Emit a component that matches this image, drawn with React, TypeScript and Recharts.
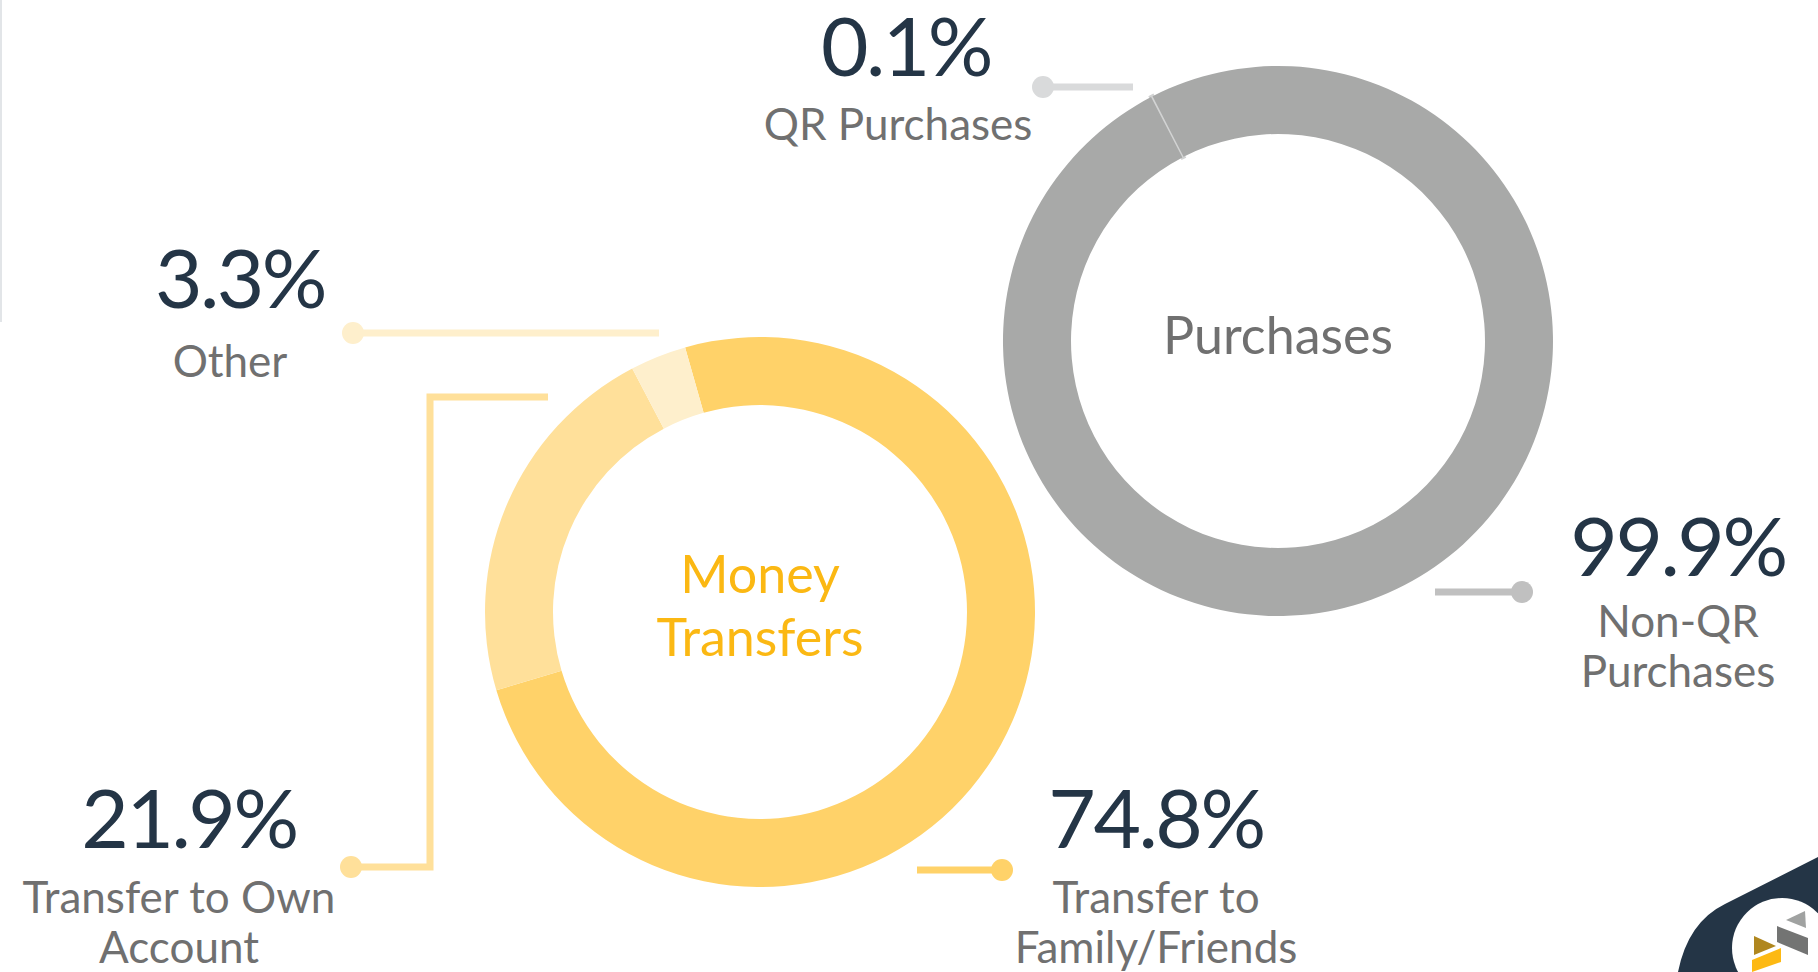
import React from "react"
import { PieChart, Pie, Cell, Customized } from "recharts"

// money transfers, clockwise from the top
const transferNames = ["Transfer to Family/Friends", "Transfer to Own Account", "Other"]
const transferShares = [74.8, 21.9, 3.3]
const transferColors = ["#ffd269", "#ffe09a", "#feefcc"]

// purchases
const purchaseNames = ["QR Purchases", "Non-QR Purchases"]
const purchaseShares = [0.1, 99.9]
const purchaseColors = ["#d2d3d3", "#a8a9a8"]

const transferData = transferNames.map((name, i) => ({ name, value: transferShares[i] }))
const purchaseData = purchaseNames.map((name, i) => ({ name, value: purchaseShares[i] }))

const NAVY = "#243546"
const GREY_TEXT = "#707070"
const FONT = "Lato, 'Open Sans', sans-serif"

const pct = (v: number) => `${v.toFixed(1)}%`

type CalloutProps = { x: number; y: number; value: number; lines: string[]; gap?: number; labelDx?: number }

function Callout({ x, y, value, lines, gap = 65, labelDx = 0 }: CalloutProps) {
  return (
    <g>
      <text x={x} y={y} textAnchor="middle" fontFamily={FONT} fontSize={82} fill={NAVY} letterSpacing={-2.5}>
        {pct(value)}
      </text>
      {lines.map((l, i) => (
        <text key={i} x={x + labelDx} y={y + gap + i * 50} textAnchor="middle" fontFamily={FONT} fontSize={44} fill={GREY_TEXT}>
          {l}
        </text>
      ))}
    </g>
  )
}

function Overlay() {
  return (
    <g>
      {/* left edge rule */}
      <rect x={0} y={0} width={2} height={322} fill="#e2e5e8" />

      {/* connectors */}
      <line x1={1043} y1={87} x2={1133} y2={87} stroke="#d9dadb" strokeWidth={7} />
      <circle cx={1043} cy={87} r={11} fill="#d9dadb" />

      <line x1={353} y1={333} x2={659} y2={333} stroke="#feefcc" strokeWidth={7} />
      <circle cx={353} cy={333} r={11} fill="#feefcc" />

      <polyline points="548,397 430,397 430,867 351,867" fill="none" stroke="#ffe09a" strokeWidth={7} />
      <circle cx={351} cy={867} r={11} fill="#ffe09a" />

      <line x1={917} y1={870} x2={1002} y2={870} stroke="#ffd269" strokeWidth={7} />
      <circle cx={1002} cy={870} r={11} fill="#ffd269" />

      <line x1={1435} y1={592} x2={1522} y2={592} stroke="#c0c0c0" strokeWidth={7} />
      <circle cx={1522} cy={592} r={11} fill="#c0c0c0" />

      {/* callouts */}
      <Callout x={906} y={76} value={purchaseShares[0]} lines={["QR Purchases"]} gap={64} labelDx={-8} />
      <Callout x={240} y={308} value={transferShares[2]} lines={["Other"]} gap={69} labelDx={-10} />
      <Callout x={189} y={848} value={transferShares[1]} lines={["Transfer to Own", "Account"]} labelDx={-10} />
      <Callout x={1156} y={848} value={transferShares[0]} lines={["Transfer to", "Family/Friends"]} />
      <Callout x={1678} y={576} value={purchaseShares[1]} lines={["Non-QR", "Purchases"]} gap={61} />

      {/* donut titles */}
      <text x={1278} y={354} textAnchor="middle" fontFamily={FONT} fontSize={52} fill={GREY_TEXT}>
        Purchases
      </text>
      <text x={760} y={593} textAnchor="middle" fontFamily={FONT} fontSize={52} fill="#fbb813">
        Money
      </text>
      <text x={760} y={656} textAnchor="middle" fontFamily={FONT} fontSize={52} fill="#fbb813">
        Transfers
      </text>

      {/* corner logo */}
      <path d="M1678,972 Q1688,922 1725,904 L1818,857 L1818,972 Z" fill={NAVY} />
      <circle cx={1782} cy={948} r={50} fill="#fff" />
      <polygon points="1786,920 1805,911 1806,928" fill="#a0a2a1" />
      <polygon points="1777,926 1808,938 1808,955 1777,942" fill="#737473" />
      <polygon points="1754,936 1776,946 1754,955" fill="#b0871f" />
      <polygon points="1752,960 1781,948 1781,962 1752,972" fill="#fdb913" />
    </g>
  )
}

export default function App() {
  return (
    <div style={{ position: "absolute", left: 0, top: 0, width: 1818, height: 972, background: "#fff" }}>
      <PieChart width={1818} height={972} margin={{ top: 0, right: 0, bottom: 0, left: 0 }}>
        <Pie
          data={purchaseData}
          dataKey="value"
          nameKey="name"
          cx={1278}
          cy={341}
          innerRadius={207}
          outerRadius={275}
          startAngle={117.5}
          endAngle={-242.5}
          isAnimationActive={false}
          stroke="none"
        >
          {purchaseData.map((d, i) => (
            <Cell
              key={d.name}
              fill={purchaseColors[i]}
              stroke={i === 0 ? purchaseColors[0] : "none"}
              strokeWidth={i === 0 ? 4 : 0}
            />
          ))}
        </Pie>
        <Pie
          data={transferData}
          dataKey="value"
          nameKey="name"
          cx={760}
          cy={612}
          innerRadius={207}
          outerRadius={275}
          startAngle={105.8}
          endAngle={-254.2}
          isAnimationActive={false}
          stroke="none"
        >
          {transferData.map((d, i) => (
            <Cell key={d.name} fill={transferColors[i]} />
          ))}
        </Pie>
        <Customized component={Overlay} />
      </PieChart>
    </div>
  )
}
